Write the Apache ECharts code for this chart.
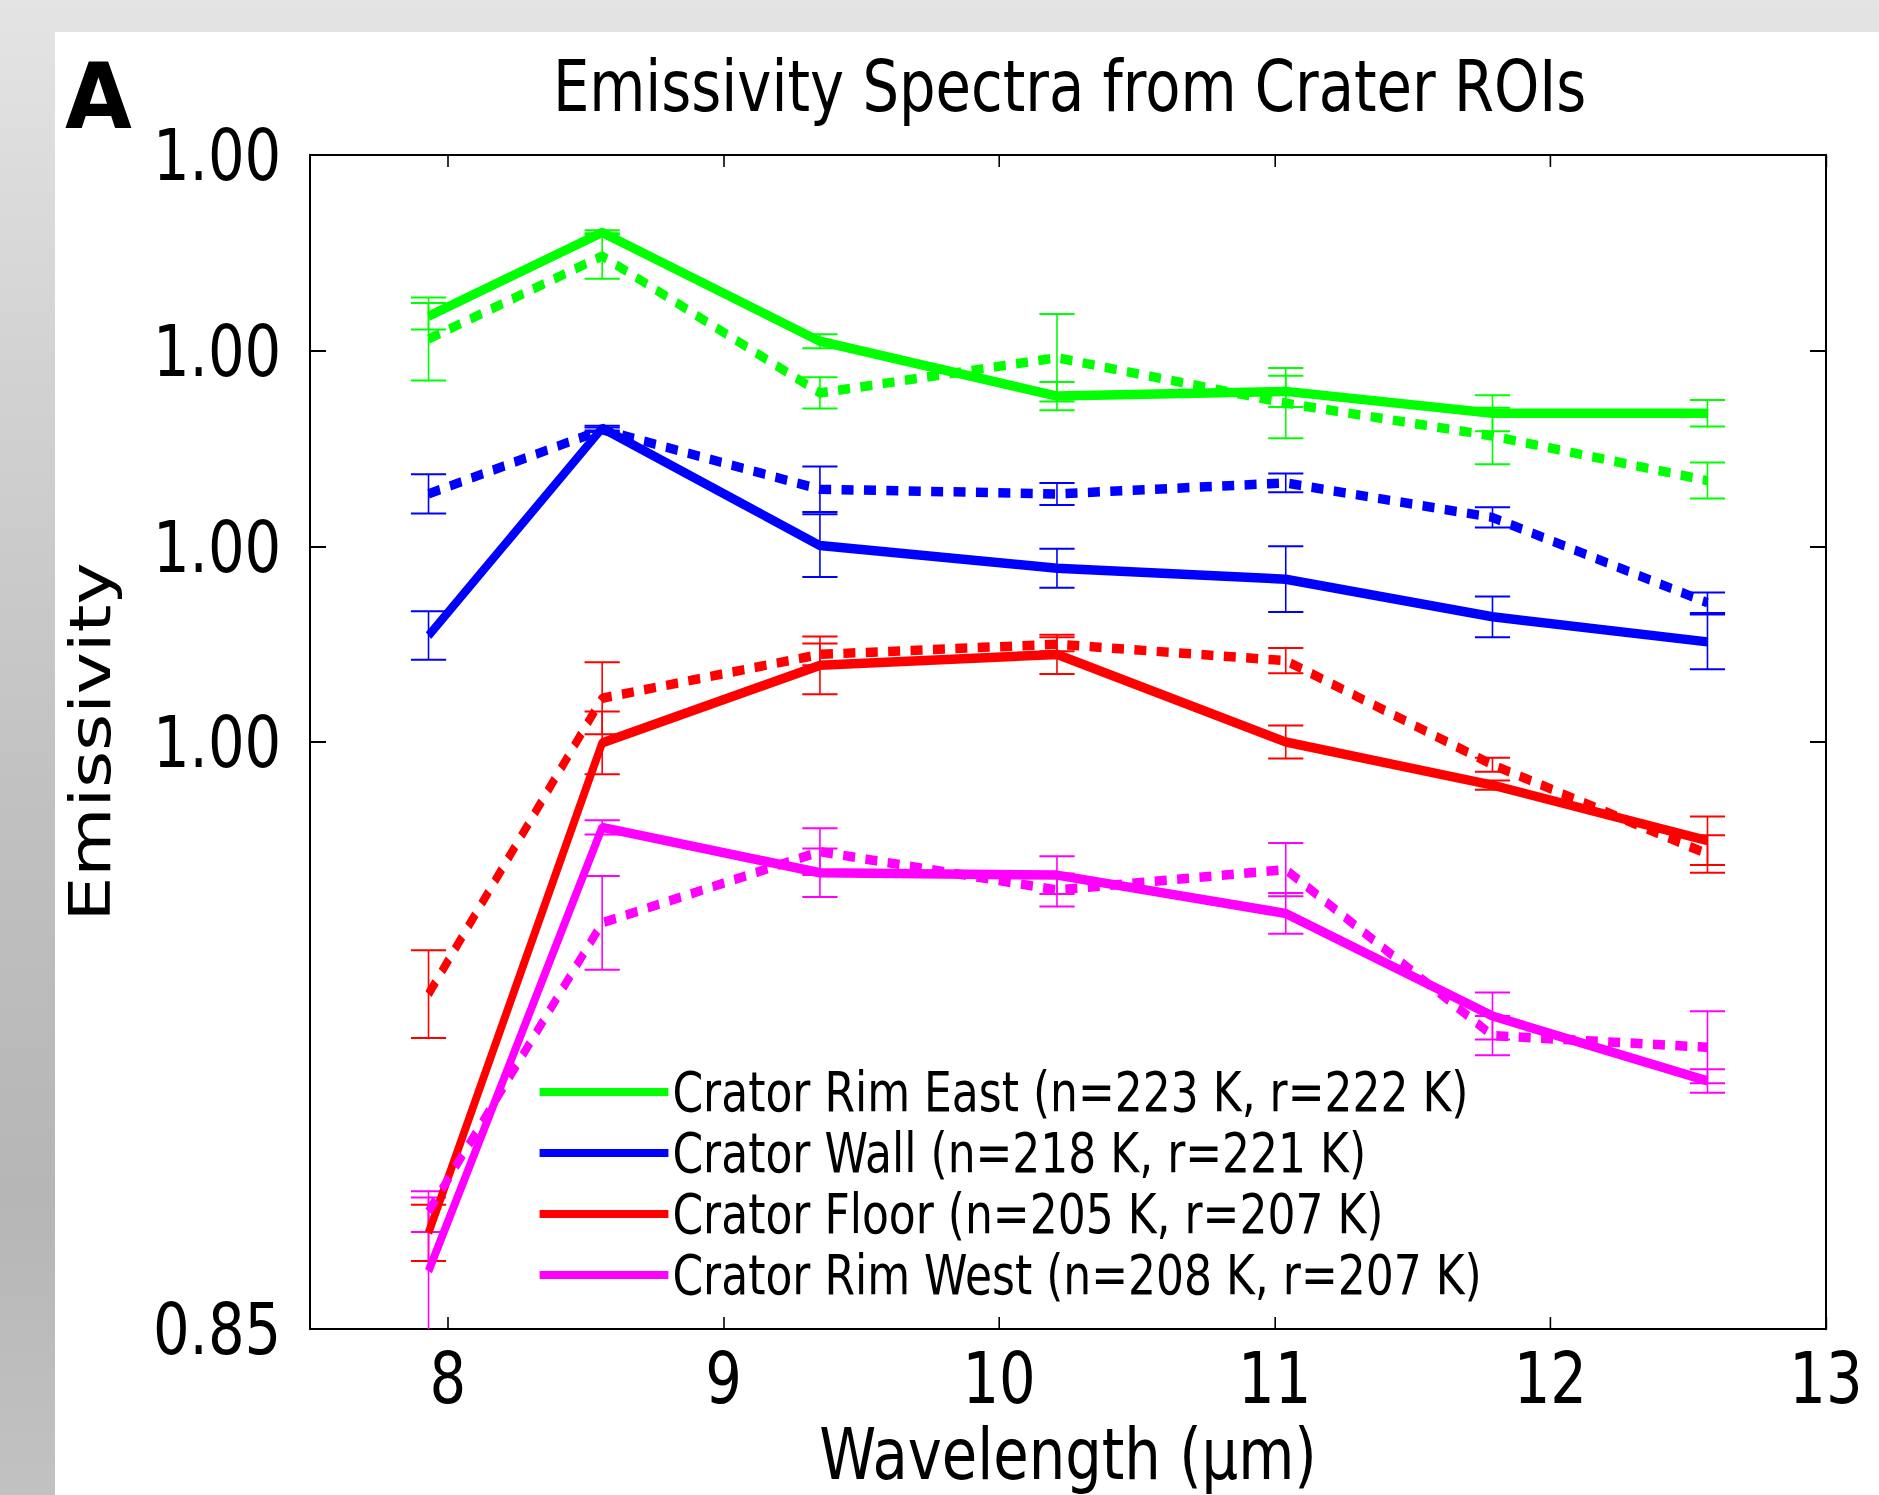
<!DOCTYPE html>
<html>
<head>
<meta charset="utf-8">
<title>Emissivity Spectra from Crater ROIs</title>
<script src="https://cdn.jsdelivr.net/npm/echarts@6/dist/echarts.min.js"></script>
<style>
  html, body {
    margin: 0;
    padding: 0;
    width: 1879px;
    height: 1495px;
    overflow: hidden;
  }
  body {
    position: relative;
    background: linear-gradient(180deg, #e4e4e4 0%, #d2d2d2 25%, #c0c0c0 55%, #b6b6b6 80%, #c2c2c2 100%);
  }
  .panel {
    position: absolute;
    left: 55px;
    top: 32px;
    right: 0;
    bottom: 0;
    background: #ffffff;
  }
  /* the figure is squeezed horizontally, so the chart is drawn wider and scaled */
  .chart {
    position: absolute;
    left: 0;
    top: 0;
    width: 2349px;
    height: 1495px;
    transform: scaleX(0.8);
    transform-origin: 0 0;
  }
</style>
</head>
<body>
<div class="panel"></div>
<div class="chart" id="chart"></div>
<script>
// THEMIS band centres (µm)
const wavelengths = [7.93, 8.56, 9.35, 10.21, 11.04, 11.79, 12.57];

// solid = n, dashed = r
const rimEastSolid     = [0.9794, 0.9901, 0.9762, 0.9692, 0.9698, 0.9670, 0.9670];
const rimEastSolidErr  = [0.0017, 0.0003, 0.0009, 0.0018, 0.0020, 0.0023, 0.0017];
const rimEastDashed    = [0.9765, 0.9871, 0.9696, 0.9741, 0.9683, 0.9641, 0.9584];
const rimEastDashedErr = [0.0053, 0.0029, 0.0020, 0.0056, 0.0045, 0.0036, 0.0023];

const wallSolid     = [0.9386, 0.9651, 0.9501, 0.9472, 0.9458, 0.9410, 0.9378];
const wallSolidErr  = [0.0031, 0.0003, 0.0040, 0.0025, 0.0042, 0.0026, 0.0035];
const wallDashed    = [0.9567, 0.9649, 0.9573, 0.9567, 0.9581, 0.9537, 0.9428];
const wallDashedErr = [0.0025, 0.0003, 0.0029, 0.0014, 0.0012, 0.0013, 0.0013];

const floorSolid     = [0.8623, 0.9249, 0.9348, 0.9362, 0.9250, 0.9195, 0.9124];
const floorSolidErr  = [0.0036, 0.0040, 0.0037, 0.0025, 0.0021, 0.0006, 0.0031];
const floorDashed    = [0.8928, 0.9306, 0.9362, 0.9375, 0.9354, 0.9221, 0.9107];
const floorDashedErr = [0.0056, 0.0046, 0.0014, 0.0009, 0.0016, 0.0009, 0.0024];

const rimWestSolid     = [0.8574, 0.9141, 0.9083, 0.9080, 0.9031, 0.8900, 0.8817];
const rimWestSolidErr  = [0.0094, 0.0009, 0.0031, 0.0024, 0.0026, 0.0030, 0.0015];
const rimWestDashed    = [0.8650, 0.9019, 0.9110, 0.9061, 0.9087, 0.8875, 0.8860];
const rimWestDashedErr = [0.0026, 0.0060, 0.0030, 0.0021, 0.0034, 0.0025, 0.0046];

const xTicks = [8, 9, 10, 11, 12, 13];
const yTickValues = [0.925, 0.95, 0.975, 1.0];
const yLabelValues = [0.85, 0.925, 0.95, 0.975, 1.0];
const yLabelText = ['0.85', '1.00', '1.00', '1.00', '1.00'];

const legendNames = [
    'Crator Rim East (n=223 K, r=222 K)',
    'Crator Wall (n=218 K, r=221 K)',
    'Crator Floor (n=205 K, r=207 K)',
    'Crator Rim West (n=208 K, r=207 K)'
];
const colors = ['#00ff00', '#0000ff', '#ff0000', '#ff00ff'];

const groups = [
    {solid: rimEastSolid, solidErr: rimEastSolidErr, dashed: rimEastDashed, dashedErr: rimEastDashedErr},
    {solid: wallSolid, solidErr: wallSolidErr, dashed: wallDashed, dashedErr: wallDashedErr},
    {solid: floorSolid, solidErr: floorSolidErr, dashed: floorDashed, dashedErr: floorDashedErr},
    {solid: rimWestSolid, solidErr: rimWestSolidErr, dashed: rimWestDashed, dashedErr: rimWestDashedErr}
];

const FONT = 'DejaVu Sans';

function points(ys) {
    return wavelengths.map((x, i) => [x, ys[i]]);
}

function errPoints(ys, es) {
    return wavelengths.map((x, i) => [x, ys[i], es[i]]);
}

// vertical error bar with caps
function renderErrorBar(params, api) {
    const x = api.value(0);
    const y = api.value(1);
    const e = api.value(2);
    const top = api.coord([x, y + e]);
    const bot = api.coord([x, y - e]);
    const hw = 22;
    const style = {stroke: api.visual('color'), lineWidth: 2, fill: null};
    return {
        type: 'group',
        children: [
            {type: 'line', shape: {x1: top[0], y1: top[1], x2: bot[0], y2: bot[1]}, style: style},
            {type: 'line', shape: {x1: top[0] - hw, y1: top[1], x2: top[0] + hw, y2: top[1]}, style: style},
            {type: 'line', shape: {x1: bot[0] - hw, y1: bot[1], x2: bot[0] + hw, y2: bot[1]}, style: style}
        ]
    };
}

const series = [];
groups.forEach((g, i) => {
    const color = colors[i];
    series.push({
        name: legendNames[i] + ' err n',
        type: 'custom',
        renderItem: renderErrorBar,
        data: errPoints(g.solid, g.solidErr),
        encode: {x: 0, y: 1},
        itemStyle: {color: color},
        clip: true,
        silent: true,
        z: 2
    });
    series.push({
        name: legendNames[i] + ' err r',
        type: 'custom',
        renderItem: renderErrorBar,
        data: errPoints(g.dashed, g.dashedErr),
        encode: {x: 0, y: 1},
        itemStyle: {color: color},
        clip: true,
        silent: true,
        z: 2
    });
});
groups.forEach((g, i) => {
    const color = colors[i];
    series.push({
        name: legendNames[i],
        type: 'line',
        data: points(g.solid),
        color: color,
        symbol: 'none',
        lineStyle: {color: color, width: 9.5},
        silent: true,
        z: 3
    });
    series.push({
        name: legendNames[i] + ' (r)',
        type: 'line',
        data: points(g.dashed),
        color: color,
        symbol: 'none',
        lineStyle: {color: color, width: 9.5, type: [15, 13], cap: 'butt'},
        silent: true,
        z: 3
    });
});

const frameLine = {show: true, onZero: false, lineStyle: {color: '#000', width: 2}};
const frameLineV = {show: true, onZero: false, lineStyle: {color: '#000', width: 2.5}};

const chart = echarts.init(document.getElementById('chart'), null, {renderer: 'svg'});

const option = {
    animation: false,
    textStyle: {fontFamily: FONT},
    grid: {left: 387.5, right: 66.5, top: 155, bottom: 156, containLabel: false},
    graphic: [
        {
            type: 'text',
            x: 123,
            y: 97,
            scaleX: 1.2,
            style: {
                text: 'A',
                fontFamily: FONT,
                fontWeight: 'bold',
                fontSize: 90,
                fill: '#000',
                align: 'center',
                verticalAlign: 'middle',
                shadowColor: 'rgba(0,0,0,0.45)',
                shadowBlur: 6,
                shadowOffsetX: 3,
                shadowOffsetY: 3
            }
        },
        {
            type: 'text',
            x: 1337,
            y: 86,
            style: {
                text: 'Emissivity Spectra from Crater ROIs',
                fontFamily: FONT,
                fontSize: 72,
                fill: '#000',
                align: 'center',
                verticalAlign: 'middle'
            }
        }
    ],
    legend: {
        data: legendNames,
        orient: 'vertical',
        left: 674.5,
        top: 1064.5,
        padding: 0,
        itemGap: 6,
        itemWidth: 161,
        itemHeight: 8,
        icon: 'rect',
        selectedMode: false,
        itemStyle: {borderWidth: 0},
        textStyle: {fontFamily: FONT, fontSize: 55, lineHeight: 55, color: '#000'}
    },
    xAxis: [
        {
            type: 'value',
            min: 7.5,
            max: 13,
            position: 'bottom',
            axisLine: frameLine,
            axisTick: {show: true, inside: true, length: 12, customValues: xTicks, lineStyle: {color: '#000', width: 2}},
            axisLabel: {customValues: xTicks, fontFamily: FONT, fontSize: 72, color: '#000', margin: 12},
            splitLine: {show: false},
            name: 'Wavelength (µm)',
            nameLocation: 'middle',
            nameGap: 80,
            nameTextStyle: {fontFamily: FONT, fontSize: 72, color: '#000'}
        },
        {
            type: 'value',
            min: 7.5,
            max: 13,
            position: 'top',
            axisLine: frameLine,
            axisTick: {show: true, inside: true, length: 12, customValues: xTicks, lineStyle: {color: '#000', width: 2}},
            axisLabel: {show: false},
            splitLine: {show: false}
        }
    ],
    yAxis: [
        {
            type: 'value',
            min: 0.85,
            max: 1.0,
            position: 'left',
            axisLine: frameLineV,
            axisTick: {show: true, inside: true, length: 20, customValues: yTickValues, lineStyle: {color: '#000', width: 2}},
            axisLabel: {
                customValues: yLabelValues,
                fontFamily: FONT,
                fontSize: 72,
                color: '#000',
                margin: 36,
                padding: [16, 0, 0, 0],
                formatter: function (v) {
                    let best = 0;
                    yLabelValues.forEach((t, k) => {
                        if (Math.abs(t - v) < Math.abs(yLabelValues[best] - v)) best = k;
                    });
                    return yLabelText[best];
                }
            },
            splitLine: {show: false},
            name: 'Emissivity',
            nameLocation: 'middle',
            nameRotate: 90,
            nameGap: 239,
            nameTextStyle: {fontFamily: FONT, fontSize: 71, color: '#000'}
        },
        {
            type: 'value',
            min: 0.85,
            max: 1.0,
            position: 'right',
            axisLine: frameLineV,
            axisTick: {show: true, inside: true, length: 20, customValues: yTickValues, lineStyle: {color: '#000', width: 2}},
            axisLabel: {show: false},
            splitLine: {show: false}
        }
    ],
    series: series
};

chart.setOption(option);
</script>
</body>
</html>
